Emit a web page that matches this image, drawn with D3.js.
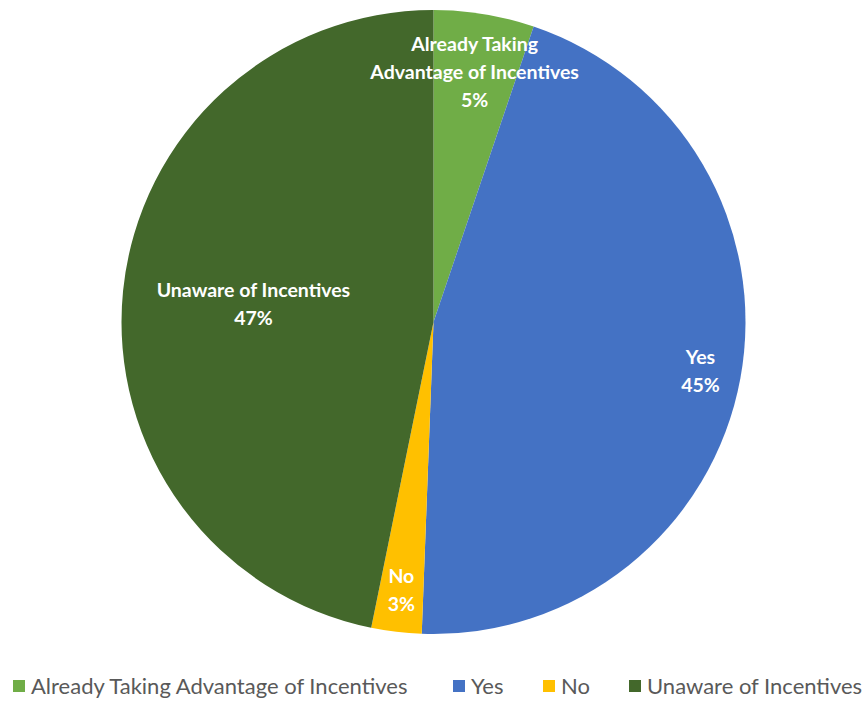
<!DOCTYPE html>
<html>
<head>
<meta charset="utf-8">
<script src="https://cdn.jsdelivr.net/npm/d3@7"></script>
<style>
  body { margin: 0; background: #fff; }
  svg { display: block; font-family: Lato, "Noto Sans", sans-serif; }
</style>
</head>
<body>
<svg width="867" height="702"></svg>
<script>
let categories = ["Already Taking Advantage of Incentives", "Yes", "No", "Unaware of Incentives"];
let values = [5.2, 45.4, 2.6, 46.8];
let pctLabels = ["5%", "45%", "3%", "47%"];
let labelLines = [["Already Taking", "Advantage of Incentives"], ["Yes"], ["No"], ["Unaware of Incentives"]];
let colors = ["#70ad47", "#4472c4", "#ffc000", "#43682b"];

let svg = d3.select("svg"),
    width = +svg.attr("width"),
    cx = 433.5,
    cy = 322,
    radius = 312,
    labelFrac = [0.81, 0.87, 0.865, 0.58],
    lineHeight = 28;

let pie = d3.pie().sort(null).value(d => d);
let arcs = pie(values);

let arc = d3.arc().innerRadius(0).outerRadius(radius);

let g = svg.append("g")
    .attr("transform", "translate(" + [cx, cy] + ")");

g.selectAll("path.slice")
    .data(arcs)
    .enter().append("path")
    .attr("class", "slice")
    .attr("d", arc)
    .attr("fill", (d, i) => colors[i]);

// data labels
let labels = g.selectAll("g.label")
    .data(arcs)
    .enter().append("g")
    .attr("class", "label")
    .attr("transform", (d, i) => {
        let la = d3.arc().innerRadius(radius * labelFrac[i]).outerRadius(radius * labelFrac[i]);
        return "translate(" + la.centroid(d) + ")";
    });

labels.each(function (d, i) {
    let lines = labelLines[i].concat([pctLabels[i]]);
    let t = d3.select(this).append("text")
        .attr("text-anchor", "middle")
        .attr("fill", "#fff")
        .attr("font-weight", "bold")
        .attr("font-size", 19.5);
    let y0 = -(lines.length - 1) * lineHeight / 2;
    lines.forEach((s, j) => {
        t.append("tspan")
            .attr("x", 0)
            .attr("y", y0 + j * lineHeight)
            .attr("dy", "0.35em")
            .text(s);
    });
});

// legend
let legendX = [13, 453, 543, 629];
let legend = svg.append("g").attr("class", "legend");
let items = legend.selectAll("g")
    .data(categories)
    .enter().append("g")
    .attr("transform", (d, i) => "translate(" + [legendX[i], 686] + ")");
items.append("rect")
    .attr("y", -6)
    .attr("width", 12)
    .attr("height", 12)
    .attr("fill", (d, i) => colors[i]);
items.append("text")
    .attr("x", 18)
    .attr("dy", "0.35em")
    .attr("font-size", 22)
    .attr("fill", "#595959")
    .text(d => d);
</script>
</body>
</html>
